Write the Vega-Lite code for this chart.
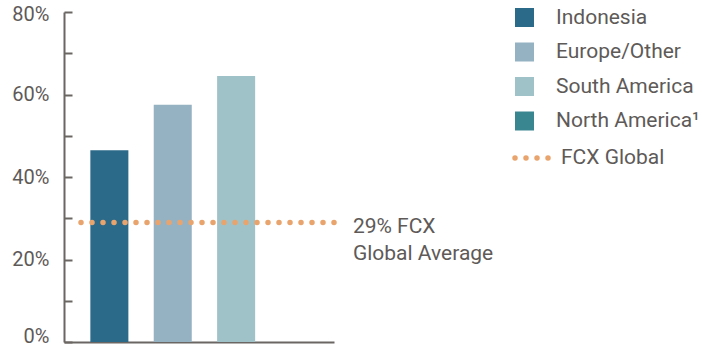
{
  "$schema": "https://vega.github.io/schema/vega-lite/v6.json",
  "autosize": "none",
  "padding": {"left": 64, "top": 12, "right": 368, "bottom": 4},
  "width": 270,
  "height": 330,
  "config": {
    "view": {"stroke": null},
    "font": "Roboto",
    "text": {"font": "Roboto"}
  },
  "datasets": {
    "regions": [
      {"region": "Indonesia", "share": 46.5},
      {"region": "Europe/Other", "share": 57.5},
      {"region": "South America", "share": 64.5},
      {"region": "North America¹", "share": null}
    ],
    "avg": [
      {"series": "FCX Global", "share": 29, "start": 6.3, "end": 101.9, "labelpos": 107, "label": "29% FCX\nGlobal Average"}
    ]
  },
  "layer": [
    {
      "data": {"name": "regions"},
      "mark": {"type": "bar"},
      "encoding": {
        "x": {
          "field": "region", "type": "nominal",
          "sort": null,
          "scale": {"domain": ["Indonesia", "Europe/Other", "South America", "North America¹"], "paddingInner": 0.4, "paddingOuter": 0.33, "align": 0.63},
          "axis": {"title": null, "labels": false, "ticks": false, "domainColor": "#6b6663", "domainWidth": 2}
        },
        "y": {
          "field": "share", "type": "quantitative",
          "scale": {"domain": [0, 80], "nice": false},
          "axis": {
            "title": null,
            "values": [0, 10, 20, 30, 40, 50, 60, 70, 80],
            "labelExpr": "datum.value % 20 === 0 ? datum.value + '%' : ''",
            "grid": false,
            "domainColor": "#6b6663", "domainWidth": 2,
            "tickColor": "#6b6663", "tickWidth": 2, "tickSize": -8,
            "labelFont": "Roboto", "labelFontSize": 20, "labelColor": "#5e5a58",
            "labelPadding": 23,
            "labelOffset": {"condition": [{"test": "datum.value === 0", "value": -6}, {"test": "datum.value === 80", "value": 2}], "value": 0}
          }
        },
        "color": {
          "field": "region", "type": "nominal",
          "scale": {"domain": ["Indonesia", "Europe/Other", "South America", "North America¹"], "range": ["#2B6A89", "#95B2C3", "#9EC2C8", "#3A8690"]},
          "legend": {
            "title": null, "orient": "none", "legendX": 450, "legendY": -5,
            "symbolType": "square", "symbolSize": 361, "symbolStrokeWidth": 0, "symbolOpacity": 1,
            "labelFont": "Roboto", "labelFontSize": 21, "labelColor": "#5e5a58",
            "labelOffset": 21, "rowPadding": 12.5, "padding": 0
          }
        }
      }
    },
    {
      "data": {"name": "avg"},
      "mark": {"type": "rule", "color": "#E9A46E", "strokeWidth": 5.5, "strokeCap": "round", "clip": false},
      "encoding": {
        "x": {"field": "start", "type": "quantitative", "scale": {"domain": [0, 100]}, "axis": null},
        "x2": {"field": "end"},
        "y": {"field": "share", "type": "quantitative"},
        "strokeDash": {
          "field": "series", "type": "nominal",
          "scale": {"domain": ["FCX Global"], "range": [[0, 11]]},
          "legend": {
            "title": null, "orient": "none", "legendX": 448, "legendY": 126,
            "symbolType": "stroke", "symbolSize": 1156, "symbolStrokeColor": "#E9A46E", "symbolStrokeWidth": 5.5,
            "labelFont": "Roboto", "labelFontSize": 21, "labelColor": "#5e5a58",
            "labelOffset": 9, "padding": 0,
            "encode": {"symbols": {"update": {"strokeCap": {"value": "round"}}}}
          }
        }
      }
    },
    {
      "data": {"name": "avg"},
      "mark": {"type": "text", "align": "left", "baseline": "alphabetic", "dy": 10.6, "lineHeight": 27, "lineBreak": "\n", "fontSize": 21, "color": "#5e5a58", "font": "Roboto", "clip": false},
      "encoding": {
        "x": {"field": "labelpos", "type": "quantitative", "scale": {"domain": [0, 100]}, "axis": null},
        "y": {"field": "share", "type": "quantitative"},
        "text": {"field": "label"}
      }
    }
  ],
  "resolve": {"scale": {"x": "independent"}}
}
